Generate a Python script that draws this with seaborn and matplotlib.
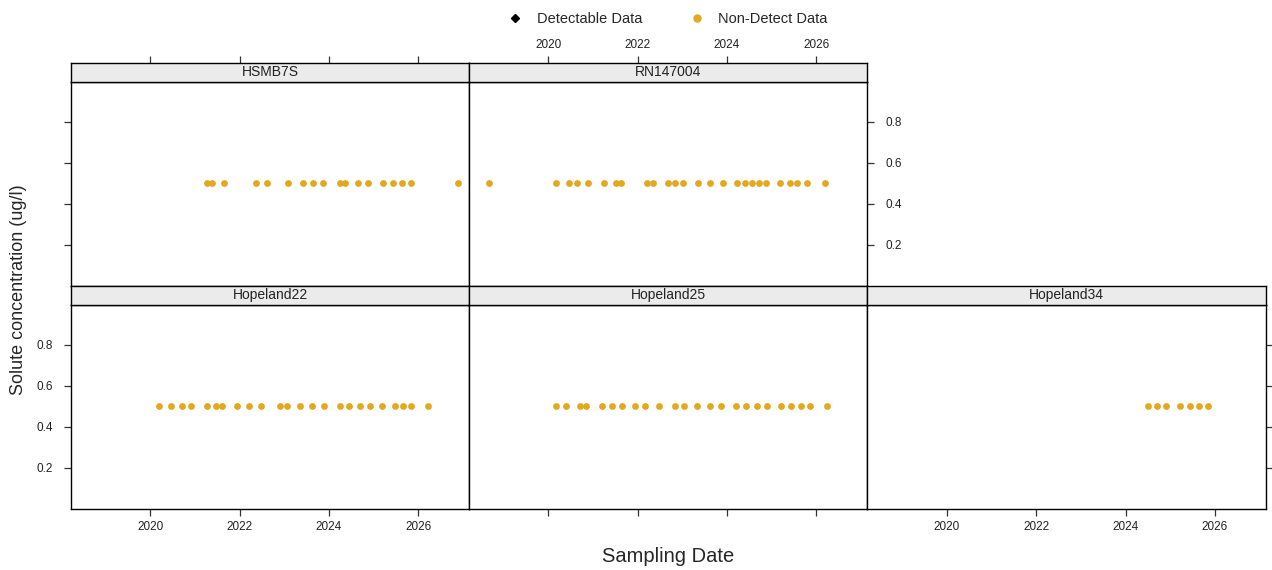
import pandas as pd
import numpy as np
import matplotlib
matplotlib.use("Agg")
import matplotlib.pyplot as plt
from matplotlib.lines import Line2D
import seaborn as sns

sns.set_style("white")
plt.rcParams['font.family'] = ['Liberation Sans', 'DejaVu Sans']

# sampling dates (decimal years), all non-detects at 0.5 ug/l
hsmb7s = [2021.26, 2021.37, 2021.64, 2022.36, 2022.61, 2023.08, 2023.42, 2023.64,
          2023.87, 2024.25, 2024.36, 2024.65, 2024.88, 2025.21, 2025.44, 2025.64,
          2025.84, 2026.90]
rn147004 = [2018.66, 2020.16, 2020.45, 2020.63, 2020.89, 2021.25, 2021.52, 2021.63,
            2022.21, 2022.35, 2022.68, 2022.84, 2023.02, 2023.36, 2023.62, 2023.91,
            2024.23, 2024.41, 2024.56, 2024.72, 2024.88, 2025.19, 2025.41, 2025.57,
            2025.79, 2026.20]
hopeland22 = [2020.20, 2020.47, 2020.70, 2020.92, 2021.26, 2021.48, 2021.61, 2021.93,
              2022.20, 2022.47, 2022.91, 2023.05, 2023.36, 2023.63, 2023.88, 2024.26,
              2024.46, 2024.69, 2024.93, 2025.20, 2025.49, 2025.67, 2025.85, 2026.23]
hopeland25 = [2020.18, 2020.40, 2020.70, 2020.85, 2021.21, 2021.42, 2021.64, 2021.93,
              2022.16, 2022.47, 2022.83, 2023.03, 2023.33, 2023.62, 2023.87, 2024.20,
              2024.43, 2024.67, 2024.90, 2025.21, 2025.44, 2025.66, 2025.87, 2026.25]
hopeland34 = [2024.51, 2024.71, 2024.91, 2025.22, 2025.43, 2025.65, 2025.85]
nd_value = 0.5

sites = ['HSMB7S', 'RN147004', 'Hopeland22', 'Hopeland25', 'Hopeland34']
dates = [hsmb7s, rn147004, hopeland22, hopeland25, hopeland34]
year_ticks = [2020, 2022, 2024, 2026]
conc_ticks = [0.2, 0.4, 0.6, 0.8]

rows = []
for s, d in zip(sites, dates):
    for t in d:
        rows.append({'site': s, 'date': t, 'conc': nd_value, 'status': 'Non-Detect Data'})
df = pd.DataFrame(rows)

W, H = 1272, 570
fig = plt.figure(figsize=(W / 100, H / 100), dpi=100)


def box(x0, y0, x1, y1):
    return [x0 / W, 1 - y1 / H, (x1 - x0) / W, (y1 - y0) / H]


cols = [(71, 469), (469, 867), (867, 1266)]
rows_px = [((63, 82), (82, 286)), ((286, 305), (305, 509))]
# site -> (column, row)
pos = {'HSMB7S': (0, 0), 'RN147004': (1, 0),
       'Hopeland22': (0, 1), 'Hopeland25': (1, 1), 'Hopeland34': (2, 1)}

gold = '#E2A91E'
tick_kw = dict(length=5, width=0.9, color='#333333', labelsize=8.5, labelcolor='#222222')

for site in sites:
    c, r = pos[site]
    (sy0, sy1), (py0, py1) = rows_px[r]
    x0, x1 = cols[c]
    ax = fig.add_axes(box(x0, py0, x1, py1))
    st = fig.add_axes(box(x0, sy0, x1, sy1), sharex=ax)

    sub = df[df.site == site]
    sns.scatterplot(data=sub, x='date', y='conc', ax=ax, color=gold, s=24,
                    linewidth=0, legend=False)
    ax.set_xlim(2018.22, 2027.14)
    ax.set_ylim(0.0, 0.995)
    ax.set_xlabel('')
    ax.set_ylabel('')
    ax.set_xticks(year_ticks)
    ax.set_yticks(conc_ticks)
    ax.set_yticklabels(['0.2', '0.4', '0.6', '0.8'])
    for sp in ax.spines.values():
        sp.set_color('black')
        sp.set_linewidth(1.0)

    ax.tick_params(axis='both', direction='out', **tick_kw)
    ax.tick_params(axis='y', pad=8)
    ax.tick_params(left=False, right=False, bottom=False, top=False,
                   labelleft=False, labelright=False, labelbottom=False, labeltop=False)

    # strip
    st.set_facecolor('#EBEBEB')
    st.set_yticks([])
    for sp in st.spines.values():
        sp.set_color('black')
        sp.set_linewidth(1.0)
    st.text(0.5, 0.5, site, transform=st.transAxes, ha='center', va='center',
            fontsize=10, color='#222222')
    st.tick_params(axis='x', direction='out', **tick_kw)
    st.tick_params(axis='x', bottom=False, labelbottom=False, top=False, labeltop=False)

    if site == 'HSMB7S':
        ax.tick_params(left=True)
        st.tick_params(axis='x', top=True)
    if site == 'RN147004':
        ax.tick_params(right=True, labelright=True)
        st.tick_params(axis='x', top=True, labeltop=True)
    if site == 'Hopeland22':
        ax.tick_params(left=True, labelleft=True, bottom=True, labelbottom=True)
    if site == 'Hopeland25':
        ax.tick_params(bottom=True)
    if site == 'Hopeland34':
        ax.tick_params(bottom=True, labelbottom=True, right=True)

# legend
handles = [Line2D([], [], marker='D', color='black', linestyle='', markersize=4.5),
           Line2D([], [], marker='o', color=gold, linestyle='', markersize=5)]
fig.legend(handles, ['Detectable Data', 'Non-Detect Data'], loc='center',
           bbox_to_anchor=(668 / W, 1 - 19 / H), ncol=2, frameon=False,
           fontsize=10.5, columnspacing=3.2, handletextpad=1.0, handlelength=1.0)

fig.text(668 / W, 1 - 557 / H, 'Sampling Date', ha='center', va='center', fontsize=14.5)
fig.text(19 / W, 1 - 290 / H, 'Solute concentration (ug/l)', ha='center', va='center',
         rotation=90, fontsize=13)

fig.savefig('out.png', dpi=100)
